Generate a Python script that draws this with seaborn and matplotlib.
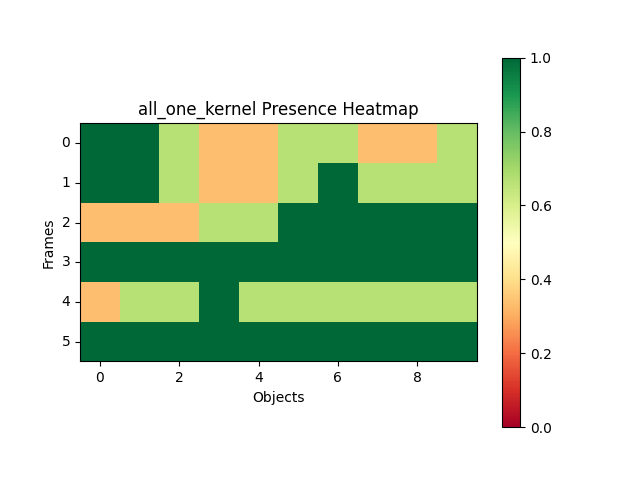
import matplotlib
matplotlib.use("Agg")
import matplotlib.pyplot as plt
import numpy as np
import seaborn as sns

title = "all_one_kernel Presence Heatmap"
frames = [0, 1, 2, 3, 4, 5]
objects = list(range(10))
H, M, L = 1.0, 2 / 3, 1 / 3
row0 = [H, H, M, L, L, M, M, L, L, M]
row1 = [H, H, M, L, L, M, H, M, M, M]
row2 = [L, L, L, M, M, H, H, H, H, H]
row3 = [H, H, H, H, H, H, H, H, H, H]
row4 = [L, M, M, H, M, M, M, M, M, M]
row5 = [H, H, H, H, H, H, H, H, H, H]
presence = np.array([row0, row1, row2, row3, row4, row5])

fig, ax = plt.subplots(figsize=(6.4, 4.8), dpi=100)
sns.heatmap(presence, ax=ax, cmap="RdYlGn", vmin=0, vmax=1, square=True,
            cbar=True, xticklabels=False, yticklabels=False)

# back to imshow-like look: full frame, ticks on cell centres
for spine in ax.spines.values():
    spine.set_visible(True)
    spine.set_linewidth(0.8)
ax.set_xticks([c + 0.5 for c in objects[::2]])
ax.set_xticklabels([str(c) for c in objects[::2]], rotation=0)
ax.set_yticks([f + 0.5 for f in frames])
ax.set_yticklabels([str(f) for f in frames], rotation=0, va="center")
ax.tick_params(length=3.5, width=0.8, labelsize=10)
ax.set_xlabel("Objects", fontsize=10)
ax.set_ylabel("Frames", fontsize=10)
ax.set_title(title, fontsize=12)

cbar = ax.collections[0].colorbar
cbar.outline.set_visible(True)
cbar.outline.set_linewidth(0.8)
cbar.set_ticks([0.0, 0.2, 0.4, 0.6, 0.8, 1.0])
cbar.ax.tick_params(length=3.5, width=0.8, labelsize=10)

fig.savefig("out.png", dpi=100)
